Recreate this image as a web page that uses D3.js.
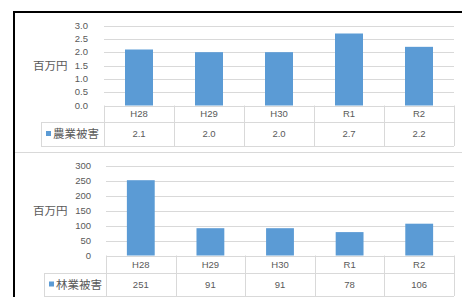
<!DOCTYPE html>
<html><head><meta charset="utf-8">
<script src="https://cdn.jsdelivr.net/npm/d3@7"></script>
<style>
body{margin:0;background:#fff;}
svg{display:block;}
.num{font-family:"Liberation Sans",Arial,sans-serif;font-size:9.5px;fill:#595959;}
.cjk{font-family:"Noto Sans CJK JP",sans-serif;fill:#595959;}
</style></head>
<body>
<script>
const categories = ["H28","H29","H30","R1","R2"];
const agriValues = [2.1, 2.0, 2.0, 2.7, 2.2];
const agriLabels = ["2.1","2.0","2.0","2.7","2.2"];
const agriTicks = [0,0.5,1.0,1.5,2.0,2.5,3.0];
const forestValues = [251, 91, 91, 78, 106];
const forestLabels = ["251","91","91","78","106"];
const forestTicks = [0,50,100,150,200,250,300];
const unitLabel = "百万円";
const agriName = "農業被害";
const forestName = "林業被害";

const W = 462, H = 297;
const svg = d3.select("body").append("svg").attr("width", W).attr("height", H);
const grid = "#d9d9d9", barColor = "#5b9bd5";

function chart(cfg){
  const g = svg.append("g");
  const x = d3.scaleBand().domain(categories).range([cfg.x0, cfg.x1]).paddingInner(0).paddingOuter(0);
  const y = d3.scaleLinear().domain([0, d3.max(cfg.ticks)]).range([cfg.y0, cfg.yTop]);
  g.selectAll(".gl").data(cfg.ticks.filter(t=>t>0)).enter().append("line")
    .attr("x1", cfg.x0).attr("x2", cfg.x1)
    .attr("y1", d=>Math.round(y(d))+0.5).attr("y2", d=>Math.round(y(d))+0.5)
    .attr("stroke", grid).attr("stroke-width",1);
  g.selectAll(".tl").data(cfg.ticks).enter().append("text").attr("class","num")
    .attr("x", cfg.tickX).attr("y", d=>y(d)).attr("dy","0.35em").attr("text-anchor","end")
    .text(d=>cfg.fmt(d));
  g.append("text").attr("class","cjk").style("font-size","11.5px")
    .attr("x", cfg.unitX).attr("y", y((cfg.ticks[0]+d3.max(cfg.ticks))/2)).attr("dy","0.35em")
    .text(unitLabel);
  const bw = x.bandwidth()*0.4;
  g.selectAll(".bar").data(cfg.values).enter().append("rect")
    .attr("x", (d,i)=>x(categories[i]) + (x.bandwidth()-bw)/2)
    .attr("width", bw)
    .attr("y", d=>y(d)).attr("height", d=>y(0)-y(d))
    .attr("fill", barColor);
  const r0 = cfg.y0, r1 = cfg.r1, r2 = cfg.r2;
  const hl = [[cfg.x0, r0],[cfg.legX, r1],[cfg.legX, r2]];
  hl.forEach(([xs,yy])=>g.append("line").attr("x1",xs).attr("x2",cfg.x1)
     .attr("y1",Math.round(yy)+0.5).attr("y2",Math.round(yy)+0.5).attr("stroke",grid));
  const vx = categories.map(c=>x(c)).concat([cfg.x1]);
  vx.forEach(xx=>g.append("line").attr("x1",Math.round(xx)+0.5).attr("x2",Math.round(xx)+0.5)
     .attr("y1",r0).attr("y2",r2).attr("stroke",grid));
  g.append("line").attr("x1",cfg.legX+0.5).attr("x2",cfg.legX+0.5).attr("y1",r1).attr("y2",r2).attr("stroke",grid);
  g.selectAll(".cl").data(categories).enter().append("text").attr("class","num")
    .attr("x", d=>x(d)+x.bandwidth()/2).attr("y",(r0+r1)/2).attr("dy","0.35em")
    .attr("text-anchor","middle").text(d=>d);
  g.selectAll(".vl").data(cfg.labels).enter().append("text").attr("class","num")
    .attr("x",(d,i)=>x(categories[i])+x.bandwidth()/2).attr("y",(r1+r2)/2).attr("dy","0.35em")
    .attr("text-anchor","middle").text(d=>d);
  g.append("rect").attr("x",cfg.legX+5).attr("y",(r1+r2)/2-3).attr("width",5).attr("height",5).attr("fill",barColor);
  g.append("text").attr("class","cjk").style("font-size","11.5px")
    .attr("x",cfg.legX+12).attr("y",(r1+r2)/2).attr("dy","0.35em").text(cfg.name);
}

chart({x0:104,x1:454,y0:105.5,yTop:25.5,ticks:agriTicks,values:agriValues,labels:agriLabels,
  fmt:d3.format(".1f"),tickX:88,unitX:33,r1:122,r2:146,legX:41,name:agriName});
chart({x0:106,x1:454,y0:255.5,yTop:165.5,ticks:forestTicks,values:forestValues,labels:forestLabels,
  fmt:d3.format("d"),tickX:91,unitX:33,r1:273,r2:296,legX:44,name:forestName});

svg.append("line").attr("x1",14).attr("x2",462).attr("y1",152.5).attr("y2",152.5).attr("stroke",grid);
svg.append("line").attr("x1",13).attr("x2",462).attr("y1",12).attr("y2",12).attr("stroke","#000").attr("stroke-width",2);
svg.append("line").attr("x1",14).attr("x2",14).attr("y1",11).attr("y2",297).attr("stroke","#000").attr("stroke-width",2);
</script>
</body></html>
